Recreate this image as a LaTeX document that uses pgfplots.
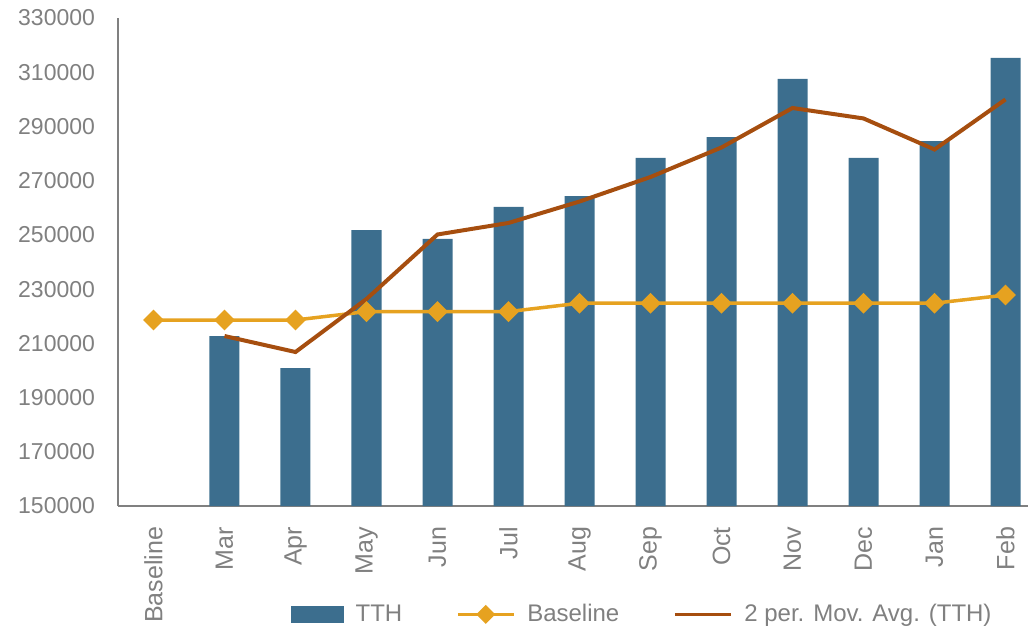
\documentclass[border=0pt]{standalone}
\usepackage{pgfplots}
\pgfplotsset{compat=1.18}
\usepackage{fontspec}
\setmainfont{Liberation Sans}
\definecolor{barblue}{RGB}{60,110,142}
\definecolor{baseorange}{RGB}{230,162,32}
\definecolor{mabrown}{RGB}{166,78,15}
\definecolor{txtgray}{RGB}{128,128,128}
\begin{document}
\begin{tikzpicture}
\path[use as bounding box] (-59pt,-62.5pt) rectangle (455pt,253pt);
\begin{axis}[
  at={(0pt,0pt)}, anchor=south west,
  scale only axis, width=455pt, height=244pt,
  xmin=-0.5, xmax=12.317, ymin=150000, ymax=330000,
  axis lines*=left,
  axis line style={txtgray, line width=1pt},
  major tick length=0pt,
  xtick={0,...,12},
  xticklabels={Baseline,Mar,Apr,May,Jun,Jul,Aug,Sep,Oct,Nov,Dec,Jan,Feb},
  ytick={150000,170000,...,330000},
  scaled y ticks=false,
  yticklabel={\pgfmathprintnumber[fixed,precision=0,1000 sep={},assume math mode=true]{\tick}},
  tick label style={text=txtgray},
  yticklabel style={font=\fontsize{11.5}{14}\selectfont},
  xticklabel style={font=\fontsize{12.5}{15}\selectfont, rotate=90, anchor=east},
  yticklabel shift=8pt,
  xticklabel shift=7pt,
  legend columns=3,
  legend cell align=left,
  legend style={draw=none, fill=none, at={(0.577,-0.222)}, anchor=center,
    font=\fontsize{12}{14}\selectfont, text=txtgray, inner sep=0pt,
    /tikz/every odd column/.append style={column sep=4pt},
    /tikz/every even column/.append style={column sep=25pt}},
]
\addplot[ybar, bar width=15pt, fill=barblue, draw=none,
  legend image code/.code={\fill[barblue] (0pt,-4.25pt) rectangle (26.5pt,4.25pt);}]
  coordinates {(1,212700) (2,200900) (3,251800) (4,248500) (5,260300) (6,264300)
    (7,278400) (8,286100) (9,307500) (10,278400) (11,284600) (12,315300)};
\addlegendentry{TTH}
\addplot[baseorange, line width=1.75pt, sharp plot, mark=square*,
  mark size=2.8pt, mark options={rotate=45, fill=baseorange, draw=none},
  legend image code/.code={\draw[baseorange, line width=1.5pt] (0pt,0pt) -- (28pt,0pt);
    \fill[baseorange, rotate around={45:(14pt,0pt)}] (11.5pt,-2.5pt) rectangle (16.5pt,2.5pt);}]
  coordinates {(0,218600) (1,218600) (2,218600) (3,221700) (4,221700) (5,221700)
    (6,224800) (7,224800) (8,224800) (9,224800) (10,224800) (11,224800) (12,227800)};
\addlegendentry{Baseline}
\addplot[mabrown, line width=2pt, sharp plot, no marks,
  legend image code/.code={\draw[mabrown, line width=1.5pt] (0pt,0pt) -- (28pt,0pt);}]
  coordinates {(1,212700) (2,206800) (3,226350) (4,250150) (5,254400) (6,262300)
    (7,271350) (8,282250) (9,296800) (10,292950) (11,281500) (12,299950)};
\addlegendentry{2 per. Mov. Avg. (TTH)}
\end{axis}
\end{tikzpicture}
\end{document}
